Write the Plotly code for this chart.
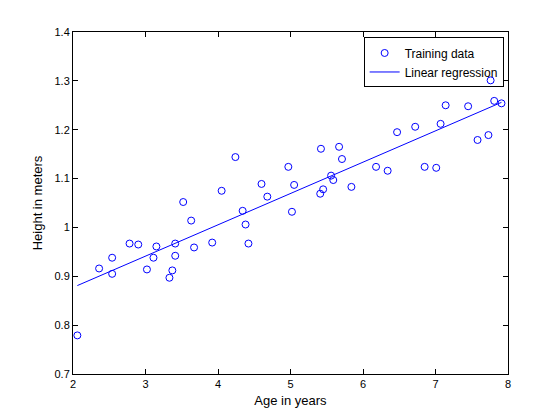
import plotly.graph_objects as go

# Training data
age = [2.06, 2.36, 2.54, 2.54, 2.78, 2.90, 3.02, 3.11, 3.15, 3.33, 3.37, 3.41, 3.41,
       3.52, 3.63, 3.67, 3.92, 4.05, 4.24, 4.34, 4.38, 4.42, 4.60, 4.68, 4.97,
       5.02, 5.05, 5.42, 5.41, 5.45, 5.56, 5.59, 5.67, 5.71, 5.84, 6.18, 6.34,
       6.47, 6.72, 6.85, 7.01, 7.07, 7.14, 7.45, 7.58, 7.73, 7.76, 7.81, 7.91]
height = [0.779, 0.916, 0.938, 0.905, 0.967, 0.965, 0.914, 0.938, 0.961, 0.897, 0.912, 0.942, 0.967,
          1.052, 1.014, 0.959, 0.969, 1.075, 1.144, 1.034, 1.006, 0.967, 1.089, 1.063, 1.124,
          1.032, 1.087, 1.161, 1.069, 1.078, 1.106, 1.097, 1.165, 1.140, 1.083, 1.124, 1.116,
          1.195, 1.206, 1.124, 1.122, 1.212, 1.250, 1.248, 1.179, 1.189, 1.301, 1.259, 1.254]

# regression line end points
reg_age = [2.06, 7.91]
reg_height = [0.881, 1.256]

y_ticks = [0.7, 0.8, 0.9, 1.0, 1.1, 1.2, 1.3, 1.4]
y_labels = ["0.7", "0.8", "0.9", "1", "1.1", "1.2", "1.3", "1.4"]

fig = go.Figure()
fig.add_trace(go.Scatter(
    x=age, y=height, mode="markers", name="Training data",
    marker=dict(symbol="circle-open", size=7, color="blue", line=dict(width=1, color="blue")),
))
fig.add_trace(go.Scatter(
    x=reg_age, y=reg_height, mode="lines", name="Linear regression",
    line=dict(color="blue", width=1),
))

axis_style = dict(
    showline=True, linecolor="black", linewidth=1, mirror="ticks",
    ticks="inside", ticklen=5, tickcolor="black", showgrid=False, zeroline=False,
)
fig.update_xaxes(range=[2, 8], dtick=1, title=dict(text="Age in years", standoff=6), **axis_style)
fig.update_yaxes(range=[0.7, 1.4], tickvals=y_ticks, ticktext=y_labels,
                 title=dict(text="Height in meters", standoff=8), **axis_style)

# the page puts the figure 8px in from the corner, so size it a bit smaller
fig.update_layout(
    width=552, height=412,
    margin=dict(l=65, r=52, t=24, b=46),
    paper_bgcolor="white", plot_bgcolor="white",
    font=dict(family="Liberation Sans, Arial, sans-serif", size=11, color="black"),
    legend=dict(x=0.99, y=0.984, xanchor="right", yanchor="top",
                bordercolor="black", borderwidth=1, bgcolor="rgba(255,255,255,0)",
                font=dict(size=12), tracegroupgap=0),
)

fig.write_html("out.html")
